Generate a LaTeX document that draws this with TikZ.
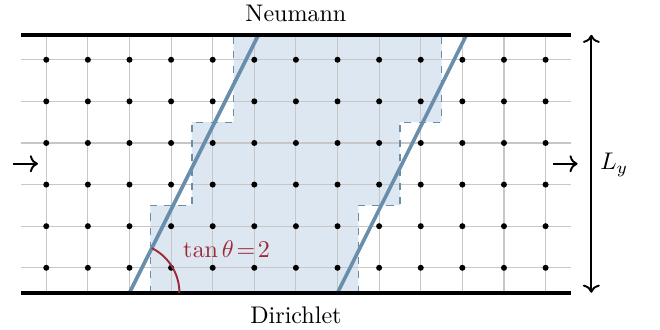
\documentclass[tikz,border=0pt]{standalone}
\usepackage{amsmath}
\usepackage{tikz}
\usetikzlibrary{arrows.meta,positioning,calc}
\definecolor{shadeblue}{RGB}{221,231,241}
\definecolor{lineblue}{RGB}{104,142,171}
\definecolor{anglered}{RGB}{158,42,56}

\begin{document}
\begin{tikzpicture}[x=0.608cm, y=0.608cm,
  gridline/.style={draw=black!22, line width=0.45pt},
  meshpt/.style={circle, fill=black, inner sep=0pt, minimum size=2.5pt},
  wall/.style={line width=1.6pt},
  front/.style={draw=lineblue, line width=1.5pt},
  stair/.style={draw=lineblue, dashed, line width=0.5pt},
  flow/.style={->, thick}
]
\useasboundingbox (-0.512,-0.873) rectangle (15.35,7.036);
% shaded cells
\fill[shadeblue] (3.1,0) -- (3.1,2.1) -- (4.1,2.1) -- (4.1,4.1) -- (5.1,4.1) -- (5.1,6.2)
  -- (10.1,6.2) -- (10.1,4.1) -- (9.1,4.1) -- (9.1,2.1) -- (8.1,2.1) -- (8.1,0) -- cycle;
% grid lines
\foreach \i in {0,...,12} {
  \draw[gridline] (0.6+\i,0) -- (0.6+\i,6.2);
}
\foreach \j in {0,...,5} {
  \draw[gridline] (0,0.6+\j) -- (13.2,0.6+\j);
}
% mesh points
\foreach \i in {0,...,12} {
  \foreach \j in {0,...,5} {
    \node[meshpt] (p-\i-\j) at (0.6+\i,0.6+\j) {};
  }
}
% staircase edges
\draw[stair] (3.1,0) -- (3.1,2.1) -- (4.1,2.1) -- (4.1,4.1) -- (5.1,4.1) -- (5.1,6.2);
\draw[stair] (8.1,0) -- (8.1,2.1) -- (9.1,2.1) -- (9.1,4.1) -- (10.1,4.1) -- (10.1,6.2);
% inclined fronts
\coordinate (fa0) at (2.6,0);
\coordinate (fa1) at (5.7,6.2);
\coordinate (fb0) at (7.6,0);
\coordinate (fb1) at (10.7,6.2);
\draw[front] (fa0) -- (fa1);
\draw[front] (fb0) -- (fb1);
% walls
\draw[wall] (0,6.2) -- (13.2,6.2);
\draw[wall] (0,0) -- (13.2,0);
\node (neumann) at (6.6,6.72) {Neumann};
\node (dirichlet) at (6.6,-0.54) {Dirichlet};
% angle
\draw[anglered, thick] ($(fa0)+(1.2,0)$) arc[start angle=0, end angle=63.43, radius=1.2];
\node[anglered, anchor=west, inner sep=0pt] (tanlbl) at (3.88,1.05) {$\tan\theta\!=\!2$};
% periodic in/out
\coordinate (inl) at (-0.2,3.1);
\coordinate (inr) at (0.4,3.1);
\coordinate (outl) at (12.78,3.1);
\coordinate (outr) at (13.37,3.1);
\draw[flow] (inl) -- (inr);
\draw[flow] (outl) -- (outr);
% height
\coordinate (lybot) at (13.7,0);
\coordinate (lytop) at (13.7,6.2);
\draw[<->, thick] (lybot) -- (lytop);
\node (ly) at (14.25,3.07) {$L_y$};
\end{tikzpicture}
\end{document}
